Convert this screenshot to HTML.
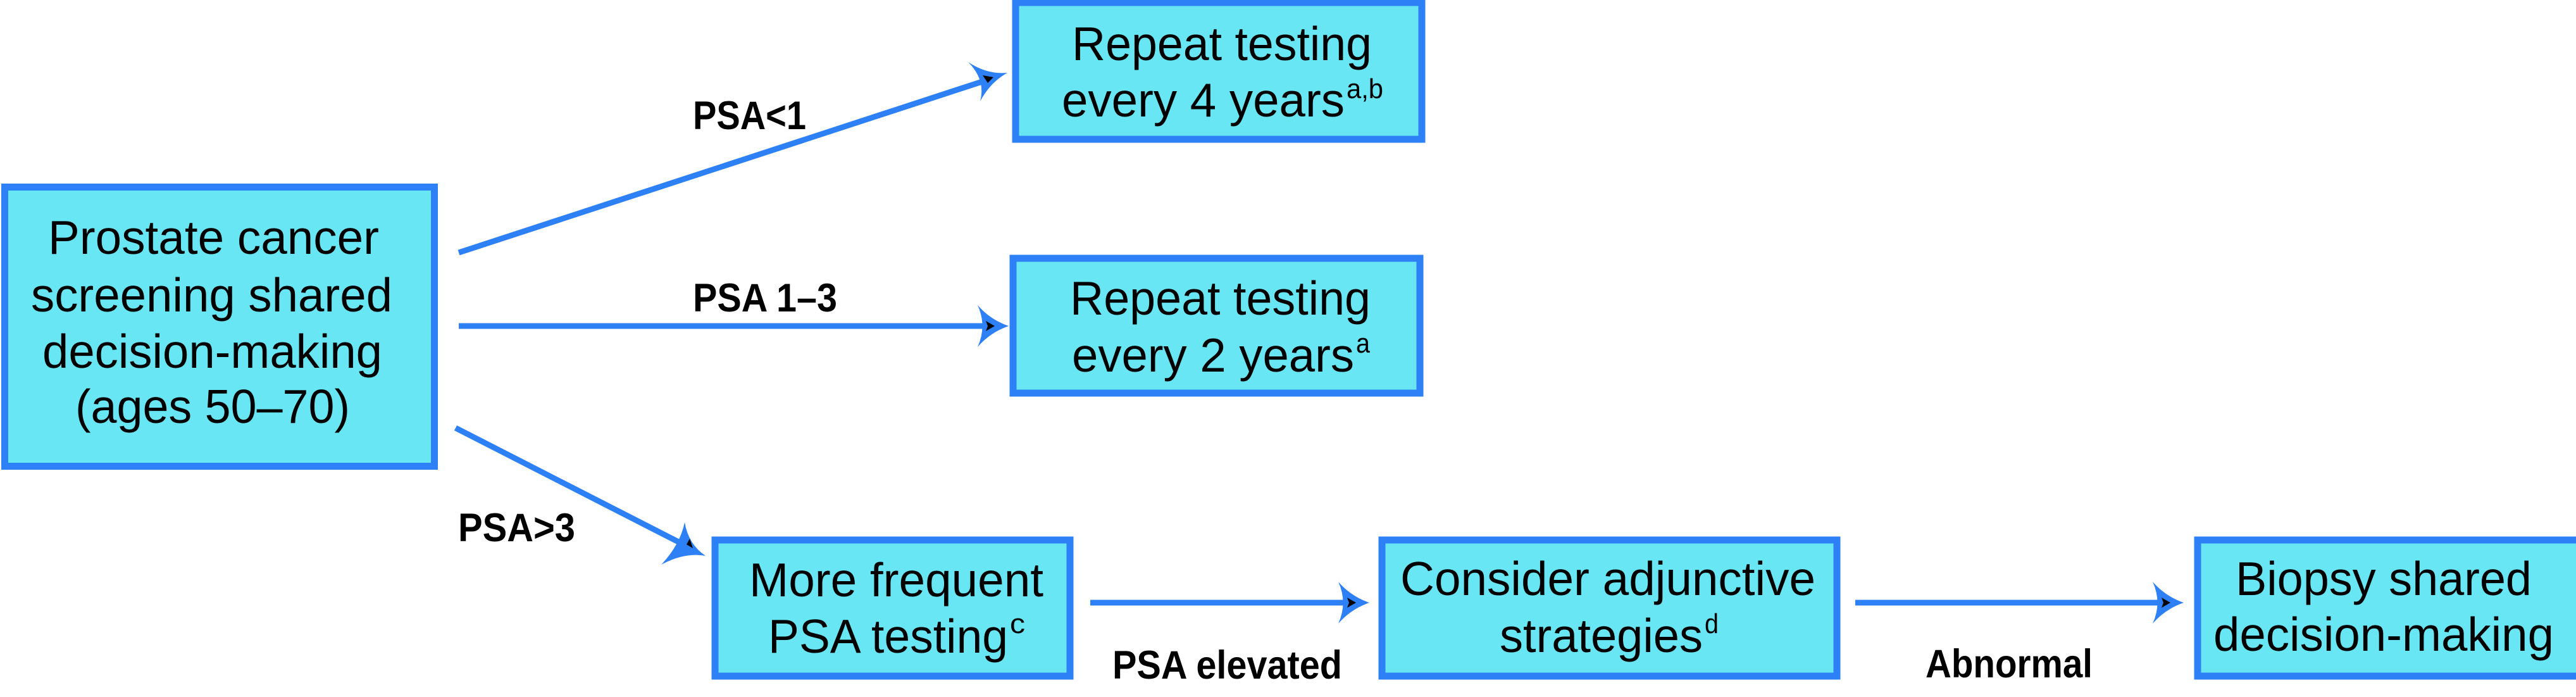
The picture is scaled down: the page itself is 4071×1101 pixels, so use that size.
<!DOCTYPE html>
<html><head><meta charset="utf-8"><style>
html,body{margin:0;padding:0;background:#fff;}
svg{display:block;}
text{font-family:"Liberation Sans Narrow","Liberation Sans",sans-serif;fill:#000;}
.b{font-size:75px;}
.l{font-size:63px;font-weight:bold;}
.s{font-size:44px;}
</style></head><body>
<svg width="4071" height="1101" viewBox="0 0 4071 1101" xmlns="http://www.w3.org/2000/svg">
<g fill="#68e6f3" stroke="#2e80f6" stroke-width="11">
<rect x="7.5" y="295.5" width="679" height="441"/>
<rect x="1605" y="4" width="642" height="216"/>
<rect x="1601" y="408" width="643" height="213"/>
<rect x="1130" y="853" width="561" height="215"/>
<rect x="2184" y="853" width="719" height="215"/>
<rect x="3473" y="853" width="700" height="215"/>
</g>
<g stroke="#2e80f6" stroke-width="9" fill="none">
<line x1="725" y1="399" x2="1555" y2="128"/>
<line x1="725" y1="515" x2="1555" y2="515"/>
<line x1="720" y1="676" x2="1082" y2="861"/>
<line x1="1723" y1="952" x2="2125" y2="952"/>
<line x1="2932" y1="952" x2="3414" y2="952"/>
</g>
<g fill="#2e80f6">
<path d="M1592,115 Q1560,118 1530,98 Q1558,126 1549,160 Q1565,130 1592,115Z"/>
<path d="M1594,515 Q1565,505 1545,482 Q1560,515 1545,548 Q1565,525 1594,515Z"/>
<path d="M1115,878 Q1088,860 1082,825 Q1075,860 1045,892 Q1082,872 1115,878Z"/>
<path d="M2164,952 Q2135,942 2115,919 Q2130,952 2115,985 Q2135,962 2164,952Z"/>
<path d="M3451,952 Q3422,942 3402,919 Q3417,952 3402,985 Q3422,962 3451,952Z"/>
</g>
<g fill="#000">
<path d="M1570,122 L1553,119 L1561,131Z"/>
<path d="M1572,515 L1558,507 L1561,515 L1558,523Z"/>
<path d="M1095,866 L1090,851 L1085,860Z"/>
<path d="M2143,952 L2129,944 L2132,952 L2129,960Z"/>
<path d="M3430,952 L3416,944 L3419,952 L3416,960Z"/>
</g>
<text class="b" x="76" y="401" textLength="523" lengthAdjust="spacingAndGlyphs">Prostate cancer</text>
<text class="b" x="49" y="492" textLength="571" lengthAdjust="spacingAndGlyphs">screening shared</text>
<text class="b" x="67" y="581" textLength="537" lengthAdjust="spacingAndGlyphs">decision-making</text>
<text class="b" x="119" y="668" textLength="434" lengthAdjust="spacingAndGlyphs">(ages 50–70)</text>

<text class="b" x="1694" y="95" textLength="474" lengthAdjust="spacingAndGlyphs">Repeat testing</text>
<text class="b" x="1678" y="184" textLength="447" lengthAdjust="spacingAndGlyphs">every 4 years</text>
<text class="s" x="2128" y="155" textLength="58" lengthAdjust="spacingAndGlyphs">a,b</text>

<text class="b" x="1691" y="497" textLength="475" lengthAdjust="spacingAndGlyphs">Repeat testing</text>
<text class="b" x="1694" y="587" textLength="446" lengthAdjust="spacingAndGlyphs">every 2 years</text>
<text class="s" x="2143" y="557" textLength="22" lengthAdjust="spacingAndGlyphs">a</text>

<text class="b" x="1184" y="942" textLength="465" lengthAdjust="spacingAndGlyphs">More frequent</text>
<text class="b" x="1214" y="1031" textLength="379" lengthAdjust="spacingAndGlyphs">PSA testing</text>
<text class="s" x="1596" y="1000" textLength="24" lengthAdjust="spacingAndGlyphs">c</text>

<text class="b" x="2213" y="940" textLength="656" lengthAdjust="spacingAndGlyphs">Consider adjunctive</text>
<text class="b" x="2370" y="1030" textLength="321" lengthAdjust="spacingAndGlyphs">strategies</text>
<text class="s" x="2694" y="1000" textLength="22" lengthAdjust="spacingAndGlyphs">d</text>

<text class="b" x="3533" y="940" textLength="468" lengthAdjust="spacingAndGlyphs">Biopsy shared</text>
<text class="b" x="3498" y="1028" textLength="538" lengthAdjust="spacingAndGlyphs">decision-making</text>

<text class="l" x="1095" y="204" textLength="179" lengthAdjust="spacingAndGlyphs">PSA&lt;1</text>
<text class="l" x="1095" y="492" textLength="228" lengthAdjust="spacingAndGlyphs">PSA 1–3</text>
<text class="l" x="724" y="855" textLength="185" lengthAdjust="spacingAndGlyphs">PSA&gt;3</text>
<text class="l" x="1758" y="1072" textLength="363" lengthAdjust="spacingAndGlyphs">PSA elevated</text>
<text class="l" x="3043" y="1070" textLength="264" lengthAdjust="spacingAndGlyphs">Abnormal</text>
</svg>
</body></html>
